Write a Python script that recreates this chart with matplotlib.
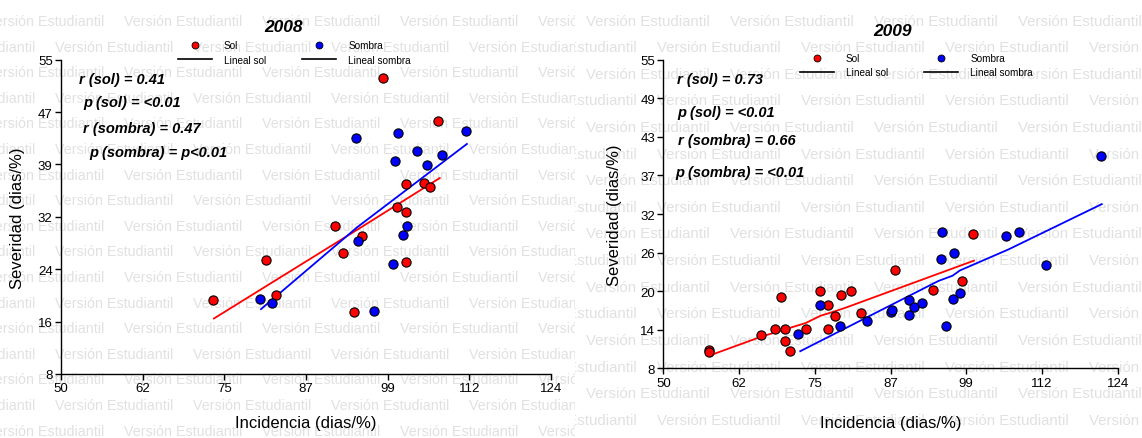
"""
Relación entre incidencia y severidad (2008 y 2009), sol vs sombra.
"""

import numpy as np
import matplotlib
matplotlib.use("Agg")
import matplotlib.pyplot as plt
from matplotlib.lines import Line2D

plt.rcParams['font.family'] = ['Liberation Sans', 'DejaVu Sans']

# --- datos 2008 ---
incid_sol_2008 = [98.7, 106.9, 102.1, 104.8, 105.8, 100.8, 102.1, 91.4, 95.4, 92.6,
                  81.0, 102.1, 82.5, 72.9, 94.3]
sev_sol_2008 = [52.2, 45.8, 36.4, 36.5, 35.9, 33.0, 32.3, 30.1, 28.6, 26.1,
                25.0, 24.8, 19.8, 19.1, 17.2]
incid_sombra_2008 = [94.5, 100.9, 111.1, 103.7, 107.5, 100.4, 105.2, 102.3, 101.6, 94.8,
                     100.1, 80.0, 81.9, 97.2]
sev_sombra_2008 = [43.3, 44.0, 44.3, 41.3, 40.7, 39.9, 39.3, 30.1, 28.8, 27.9,
                   24.4, 19.2, 18.6, 17.4]
lin_sol_2008_x = [73.1, 95.1, 107.2]
lin_sol_2008_y = [16.3, 29.8, 37.3]
lin_sombra_2008_x = [80.2, 94.8, 111.3]
lin_sombra_2008_y = [17.7, 30.0, 42.4]

# --- datos 2009 ---
incid_sol_2009 = [57.4, 57.4, 65.9, 68.2, 69.2, 69.9, 69.9, 70.6, 73.2, 75.6,
                  76.8, 76.8, 78.0, 78.9, 80.5, 82.2, 87.7, 94.0, 98.7, 100.4]
sev_sol_2009 = [10.8, 10.5, 13.1, 14.0, 18.9, 14.0, 12.1, 10.7, 14.0, 19.7,
                17.7, 14.0, 15.9, 19.2, 19.7, 16.4, 23.0, 19.9, 21.3, 28.4]
incid_sombra_2009 = [72.0, 75.6, 78.7, 83.1, 87.0, 87.2, 90.0, 90.0, 90.8, 92.2,
                     95.2, 95.4, 96.0, 97.1, 97.3, 98.3, 105.8, 107.9, 112.4, 121.2]
sev_sombra_2009 = [13.2, 17.7, 14.4, 15.2, 16.6, 16.9, 18.4, 16.1, 17.4, 18.0,
                   24.6, 28.7, 14.4, 18.5, 25.6, 19.5, 28.2, 28.7, 23.7, 40.3]
lin_sol_2009_x = [57.4, 65.9, 73.2, 75.6, 78.0, 79.6, 100.6]
lin_sol_2009_y = [9.9, 12.8, 14.9, 16.0, 16.7, 17.2, 24.4]
lin_sombra_2009_x = [72.3, 94.8, 97.1, 98.3, 106.2, 121.4]
lin_sombra_2009_y = [10.6, 21.3, 22.1, 22.9, 26.1, 33.0]

xtick_labels = ['50', '62', '75', '87', '99', '112', '124']
ytick_labels_2008 = ['8', '16', '24', '32', '39', '47', '55']
ytick_labels_2009 = ['8', '14', '20', '26', '32', '37', '43', '49', '55']

textos_2008 = ['r (sol) = 0.41', 'p (sol) = <0.01', 'r (sombra) = 0.47', 'p (sombra) = p<0.01']
textos_2009 = ['r (sol) = 0.73', 'p (sol) = <0.01', 'r (sombra) = 0.66', 'p (sombra) = <0.01']

W, H = 1142, 439
ROJO = '#ff0000'
AZUL = '#0000ff'
MARCA = 'Versión Estudiantil'


def fx(px):
    return px / W


def fy(py):
    return 1 - py / H


def marca_agua(fig, x0, x1, y_inicio, paso_y, x_fila, periodo, size):
    """Fondo con la marca de agua repetida, recortada a su mitad."""
    bg = fig.add_axes([fx(x0), 0, fx(x1 - x0), 1], zorder=-1)
    bg.set_xlim(x0, x1)
    bg.set_ylim(H, 0)
    bg.axis('off')
    fila = 0
    y = y_inicio
    while y < H + 15:
        inicio = x_fila[fila % 2]
        while inicio > x0 - 140:
            inicio -= periodo
        x = inicio
        while x < x1:
            bg.text(x, y, MARCA, fontsize=size, color='#e1e1e1', va='center',
                    ha='left', clip_on=True)
            x += periodo
        y += paso_y
        fila += 1


def panel(fig, rect, xs_sol, ys_sol, xs_som, ys_som, lsx, lsy, lbx, lby, ylabels,
          label_x, label_y):
    ax = fig.add_axes(rect)
    ax.set_facecolor('none')
    ax.plot(lsx, lsy, color=ROJO, lw=1.3, zorder=2)
    ax.plot(lbx, lby, color=AZUL, lw=1.3, zorder=2)
    ax.scatter(xs_sol, ys_sol, s=44, color=ROJO, edgecolors='black', linewidths=0.8,
               zorder=3, clip_on=False)
    ax.scatter(xs_som, ys_som, s=44, color=AZUL, edgecolors='black', linewidths=0.8,
               zorder=3, clip_on=False)
    ax.set_xlim(50, 124)
    ax.set_ylim(8, 55)
    ax.set_xticks(np.linspace(50, 124, len(xtick_labels)))
    ax.set_xticklabels(xtick_labels)
    ax.set_yticks(np.linspace(8, 55, len(ylabels)))
    ax.set_yticklabels(ylabels)
    for lado in ['top', 'right']:
        ax.spines[lado].set_visible(False)
    for lado in ['left', 'bottom']:
        ax.spines[lado].set_linewidth(1.0)
    ax.tick_params(direction='out', length=4, width=1, labelsize=9.5, pad=2)
    ax.set_xlabel('Incidencia (dias/%)', fontsize=12)
    ax.set_ylabel('Severidad (dias/%)', fontsize=12)
    ax.xaxis.set_label_coords(0.5, label_x)
    ax.xaxis.label.set_va('center')
    ax.yaxis.set_label_coords(label_y, 0.5)
    ax.yaxis.label.set_va('center')
    return ax


def leyenda(fig, x, y):
    handles = [
        Line2D([], [], ls='none', marker='o', ms=5, mfc=ROJO, mec='black', mew=0.6),
        Line2D([], [], color='black', lw=1.2),
        Line2D([], [], ls='none', marker='o', ms=5, mfc=AZUL, mec='black', mew=0.6),
        Line2D([], [], color='black', lw=1.2),
    ]
    labels = ['Sol', 'Lineal sol', 'Sombra', 'Lineal sombra']
    fig.legend(handles, labels, loc='upper left', bbox_to_anchor=(fx(x), fy(y)),
               bbox_transform=fig.transFigure, ncol=2, frameon=False, fontsize=7.2,
               handlelength=3.4, handletextpad=1.2, columnspacing=3.6,
               labelspacing=0.45, borderpad=0, borderaxespad=0)


fig = plt.figure(figsize=(W / 100, H / 100), dpi=100)

marca_agua(fig, 0, 575, 22, 25.6, [124, 55], 138, 10.3)
marca_agua(fig, 575, W, 21.7, 26.6, [730, 657], 144, 10.8)

panel(fig, [fx(61), fy(375), fx(490), 314.3 / H],
      incid_sol_2008, sev_sol_2008, incid_sombra_2008, sev_sombra_2008,
      lin_sol_2008_x, lin_sol_2008_y, lin_sombra_2008_x, lin_sombra_2008_y,
      ytick_labels_2008, -0.153, -0.088)
panel(fig, [fx(663.3), fy(369.3), fx(454.4), 308.6 / H],
      incid_sol_2009, sev_sol_2009, incid_sombra_2009, sev_sombra_2009,
      lin_sol_2009_x, lin_sol_2009_y, lin_sombra_2009_x, lin_sombra_2009_y,
      ytick_labels_2009, -0.175, -0.108)

# títulos
fig.text(fx(284), fy(27), '2008', fontsize=12.5, weight='bold', style='italic',
         ha='center', va='center')
fig.text(fx(893), fy(32), '2009', fontsize=12.5, weight='bold', style='italic',
         ha='center', va='center')

# estadísticos
pos_2008 = [(79, 80), (83, 103), (83, 129), (89, 153)]
pos_2009 = [(677, 80), (677, 113), (678, 141), (675, 173)]
for t, (px, py) in zip(textos_2008, pos_2008):
    fig.text(fx(px), fy(py), t, fontsize=10.5, weight='bold', style='italic',
             ha='left', va='center')
for t, (px, py) in zip(textos_2009, pos_2009):
    fig.text(fx(px), fy(py), t, fontsize=10.5, weight='bold', style='italic',
             ha='left', va='center')

leyenda(fig, 178, 41)
leyenda(fig, 800, 54)

fig.savefig('out.png', dpi=100)
